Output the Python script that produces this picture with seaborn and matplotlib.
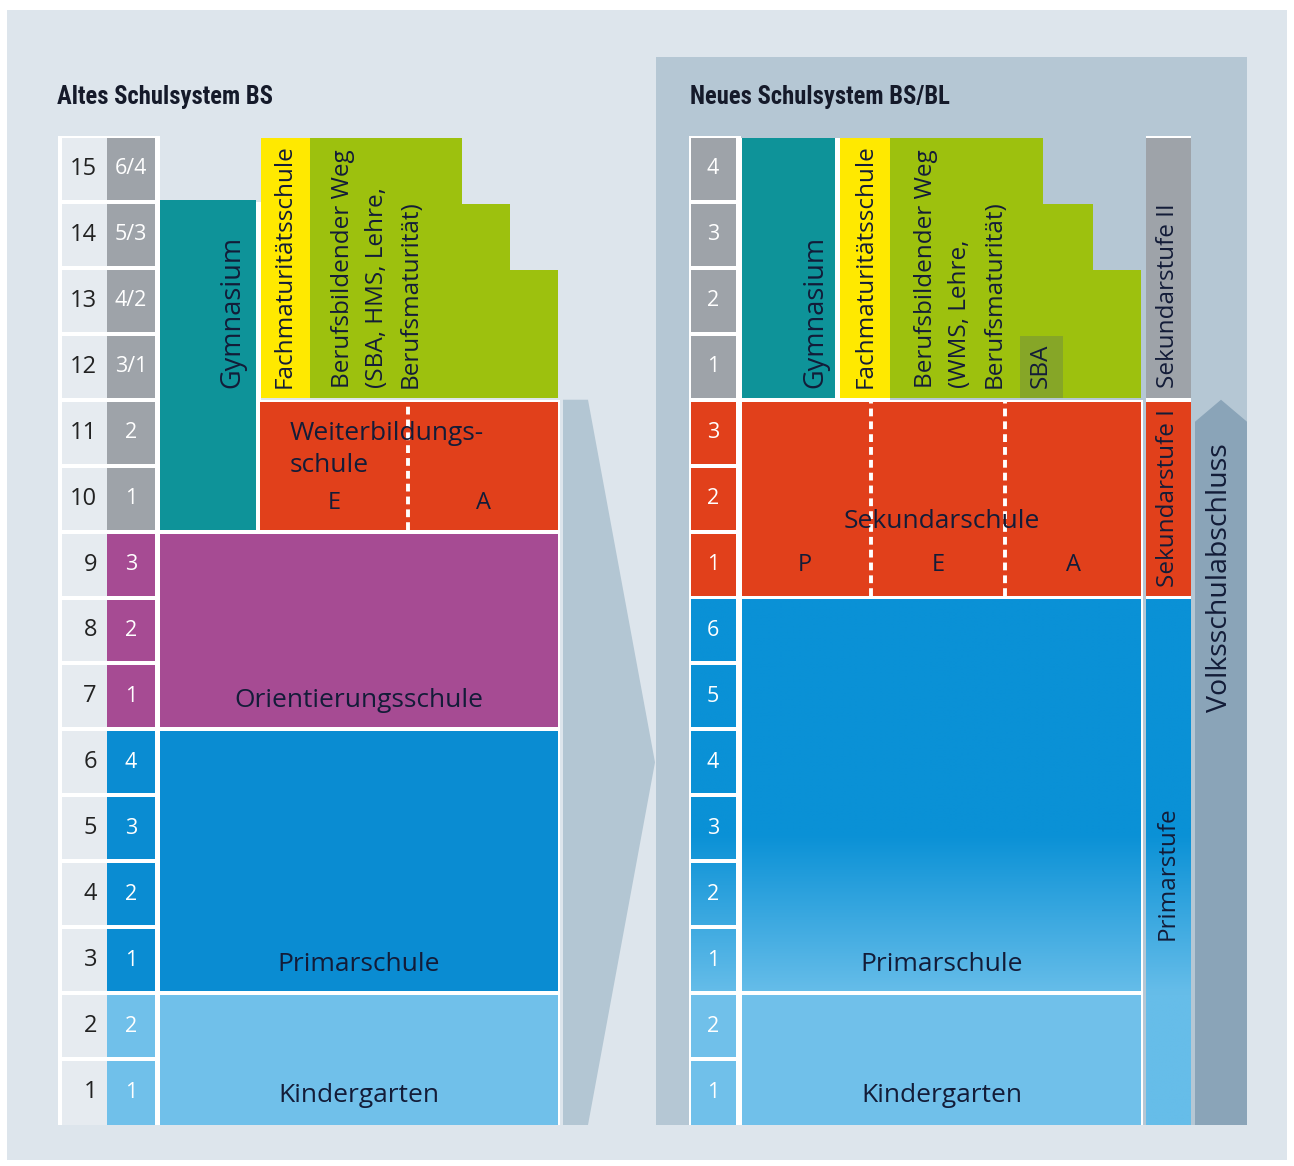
import numpy as np
import matplotlib
matplotlib.use("Agg")
import matplotlib.pyplot as plt
import seaborn as sns
from matplotlib.patches import Polygon
from matplotlib import font_manager

# ---------------- data ----------------
years = list(range(1, 16))
old_grades = ["1", "2", "1", "2", "3", "4", "1", "2", "3", "1", "2", "3/1", "4/2", "5/3", "6/4"]
old_grade_stage = ["KG", "KG", "PS", "PS", "PS", "PS", "OS", "OS", "OS",
                   "S2", "S2", "S2", "S2", "S2", "S2"]
new_grades = ["1", "2", "1", "2", "3", "4", "5", "6", "1", "2", "3", "1", "2", "3", "4"]
new_grade_stage = ["KG", "KG", "PS", "PS", "PS", "PS", "PS", "PS", "SK", "SK", "SK",
                   "S2", "S2", "S2", "S2"]

old_blocks = ["Kindergarten", "Primarschule", "Orientierungsschule",
              "Weiterbildungsschule", "Gymnasium", "Fachmaturitätsschule"]
old_from = [0, 2, 6, 9, 9, 11]
old_to = [2, 6, 9, 11, 14, 15]

new_blocks = ["Kindergarten", "Primarschule", "Sekundarschule",
              "Gymnasium", "Fachmaturitätsschule", "SBA"]
new_from = [0, 2, 8, 11, 11, 11]
new_to = [2, 8, 11, 15, 15, 12]

beruf_from = 11
beruf_steps = [15, 14, 13]          # top of each step of "Berufsbildender Weg"

stages = ["Primarstufe", "Sekundarstufe I", "Sekundarstufe II"]
stage_from = [0, 8, 11]
stage_to = [8, 11, 15]

old_streams = ["E", "A"]
new_streams = ["P", "E", "A"]
volksschule_to = 11

# ---------------- styling ----------------
BG = "#dde5ec"
PANEL = "#b5c7d4"
CHEVRON = "#b3c6d3"
ARROW = "#8aa4b8"
GREY = "#9ea3a9"
LIGHT = "#e6ebf0"
TEAL = "#0e9399"
YELLOW = "#ffe900"
GREEN = "#9dc10e"
SBA = "#86a627"
RED = "#e1401b"
PURPLE = "#a64b93"
BLUE = "#0a8cd2"
LBLUE = "#70c0ea"
TXT = "#131c38"
stage_col = {"KG": LBLUE, "PS": BLUE, "OS": PURPLE, "S2": GREY, "SK": RED}

ROW = (1125 - 136) / 15.0


def yr(py):
    return (1125 - py) / ROW


sns.set_theme(style="white")
plt.rcParams["font.family"] = ["Open Sans", "DejaVu Sans"]

names = {f.name for f in font_manager.fontManager.ttflist}
TITLE_FONT = [f for f in ["Liberation Sans Narrow", "Roboto Condensed", "Open Sans Condensed"]
              if f in names] + ["DejaVu Sans"]
title_size = 17.7 if TITLE_FONT[0] != "DejaVu Sans" else 14.5

fig = plt.figure(figsize=(12.94, 11.66), dpi=100)
fig.patch.set_facecolor("white")
ax = fig.add_axes([0, 0, 1, 1])
ax.axis("off")

G = 2.0 / ROW


def box(x0, x1, y0, y1, color, gap=True, z=2):
    gb = G if (gap and y0 > 0) else 0
    gt = G if gap else 0
    ax.bar((x0 + x1) / 2, (y1 - gt) - (y0 + gb), bottom=y0 + gb, width=x1 - x0,
           color=color, linewidth=0, zorder=z)


def blue_grad(x0, x1, y0, y1, z=3):
    gb = G if y0 > 0 else 0
    ys = np.linspace(y0 + gb, y1 - G, 200)
    t = np.clip((ys - 2.0) / 2.4, 0, 1)[:, None]
    top = np.array(matplotlib.colors.to_rgb("#0a91d6"))
    bot = np.array(matplotlib.colors.to_rgb("#66bde9"))
    img = (bot * (1 - t) + top * t)[:, None, :]
    ax.imshow(img, extent=(x0, x1, y0 + gb, y1 - G), origin="lower",
              aspect="auto", zorder=z, interpolation="bilinear")


def vtext(x, py, s, size=17.5, color=TXT, z=6):
    ax.text(x, yr(py), s, rotation=90, ha="center", va="bottom",
            fontsize=size, color=color, zorder=z)


def htext(x, y, s, size=19, ha="center"):
    ax.text(x, y, s, ha=ha, va="center", fontsize=size, color=TXT, zorder=6)


# background + right panel + chevron
box(7, 1287, yr(1160), yr(10), BG, gap=False, z=0)
box(656, 1247, 0, yr(57), PANEL, gap=False, z=1)
chev = Polygon([(563, 0), (563, volksschule_to), (588, volksschule_to),
                (655, volksschule_to / 2), (588, 0)], closed=True,
               facecolor=CHEVRON, edgecolor="none", zorder=1)
ax.add_patch(chev)

# titles
for tx, title in [(57, "Altes Schulsystem BS"), (690, "Neues Schulsystem BS/BL")]:
    ax.text(tx, yr(97), title, fontsize=title_size, fontweight="bold",
            family=TITLE_FONT, color="#151a2a", va="center", ha="left")

# ---------------- old system ----------------
box(58, 160, 0, 15, "white", gap=False, z=1)
for yv, g, st in zip(years, old_grades, old_grade_stage):
    box(62, 107, yv - 1, yv, LIGHT)
    box(107, 155, yv - 1, yv, stage_col[st])
    ax.text(97, yv - 0.5, str(yv), ha="right", va="center", fontsize=17, color="#222")
    ax.text(131, yv - 0.5, g, ha="center", va="center", fontsize=15.5, color="white")

box(155, 560, 0, 11, "white", gap=False, z=1)
box(155, 261, 11, 14, "white", gap=False, z=1)
old_x = {"Kindergarten": (160, 558), "Primarschule": (160, 558),
         "Orientierungsschule": (160, 558), "Weiterbildungsschule": (260, 558),
         "Gymnasium": (160, 256), "Fachmaturitätsschule": (261, 310)}
old_c = {"Kindergarten": LBLUE, "Primarschule": BLUE, "Orientierungsschule": PURPLE,
         "Weiterbildungsschule": RED, "Gymnasium": TEAL, "Fachmaturitätsschule": YELLOW}
for name, a, b in zip(old_blocks, old_from, old_to):
    x0, x1 = old_x[name]
    # Gymnasium reaches the top edge of its year row (no gap above)
    box(x0, x1, a, b + (2 * G if name == "Gymnasium" else 0), old_c[name])
step_x = [(310, 462), (462, 510), (510, 558)]
for (x0, x1), top in zip(step_x, beruf_steps):
    box(x0, x1, beruf_from, top, GREEN)

for name, a in zip(["Kindergarten", "Primarschule", "Orientierungsschule"], old_from[:3]):
    htext(359, a + yr(1096), name)
htext(290, yr(433), "Weiterbildungs-", ha="left")
htext(290, yr(465), "schule", ha="left")
for s, xx in zip(old_streams, [334, 484]):
    htext(xx, yr(503), s, size=17)
ax.plot([408, 408], [9 + G, 11 - G], color="white", lw=2.8, dashes=(2, 1.3), zorder=5)

vtext(232, 388, "Gymnasium", size=19.5)
vtext(285, 388, "Fachmaturitätsschule")
vtext(343, 388, "Berufsbildender Weg")
vtext(377, 388, "(SBA, HMS, Lehre,")
vtext(411, 388, "Berufsmaturität)")

# ---------------- new system ----------------
box(689, 741, 0, 15, "white", gap=False, z=1)
for yv, g, st in zip(years, new_grades, new_grade_stage):
    if st == "PS":
        blue_grad(691, 736, yv - 1, yv)
    else:
        box(691, 736, yv - 1, yv, stage_col[st])
    ax.text(713, yv - 0.5, g, ha="center", va="center", fontsize=15.5, color="white", zorder=6)

box(741, 1143, 0, 11, "white", gap=False, z=1)
box(741, 890, 11, 15 - G, "white", gap=False, z=1)
new_x = {"Kindergarten": (742, 1141), "Primarschule": (742, 1141),
         "Sekundarschule": (742, 1141), "Gymnasium": (742, 835),
         "Fachmaturitätsschule": (840, 890), "SBA": (1020, 1063)}
new_c = {"Kindergarten": LBLUE, "Sekundarschule": RED, "Gymnasium": TEAL,
         "Fachmaturitätsschule": YELLOW, "SBA": SBA}
rstep_x = [(890, 1043), (1043, 1093), (1093, 1141)]
for (x0, x1), top in zip(rstep_x, beruf_steps):
    box(x0, x1, beruf_from, top, GREEN)
for name, a, b in zip(new_blocks, new_from, new_to):
    x0, x1 = new_x[name]
    if name == "Primarschule":
        blue_grad(x0, x1, a, b)
    else:
        box(x0, x1, a, b, new_c[name], z=3)

htext(942, yr(1096), "Kindergarten")
htext(942, new_from[1] + yr(1096), "Primarschule")
htext(942, yr(521), "Sekundarschule")
for s, xx in zip(new_streams, [805, 938, 1073]):
    htext(xx, yr(565), s, size=17)
for xx in [871, 1005]:
    ax.plot([xx, xx], [8 + G, 11 - G], color="white", lw=2.8, dashes=(2, 1.3), zorder=5)

vtext(815, 388, "Gymnasium", size=19.5)
vtext(866, 388, "Fachmaturitätsschule")
vtext(926, 388, "Berufsbildender Weg")
vtext(960, 388, "(WMS, Lehre,")
vtext(995, 388, "Berufsmaturität)")
vtext(1041, 388, "SBA")

# stage column
box(1146, 1191, 0, 15, "white", gap=False, z=1)
stage_c = {"Sekundarstufe I": RED, "Sekundarstufe II": GREY}
stage_txt_py = {"Primarstufe": 940, "Sekundarstufe I": 587, "Sekundarstufe II": 388}
for name, a, b in zip(stages, stage_from, stage_to):
    if name == "Primarstufe":
        blue_grad(1146, 1191, a, b)
    else:
        box(1146, 1191, a, b, stage_c[name], z=3)
    vtext(1168, stage_txt_py[name], name)

# Volksschulabschluss arrow
sh = volksschule_to - 22 / ROW
arrow = Polygon([(1195, 0), (1195, sh), (1221, volksschule_to), (1247, sh), (1247, 0)],
                closed=True, facecolor=ARROW, edgecolor="none", zorder=2)
ax.add_patch(arrow)
vtext(1220, 712, "Volksschulabschluss", size=20.5)

ax.set_xlim(0, 1294)
ax.set_ylim(yr(1166), yr(0))
fig.savefig("out.png", dpi=100, facecolor="white")
